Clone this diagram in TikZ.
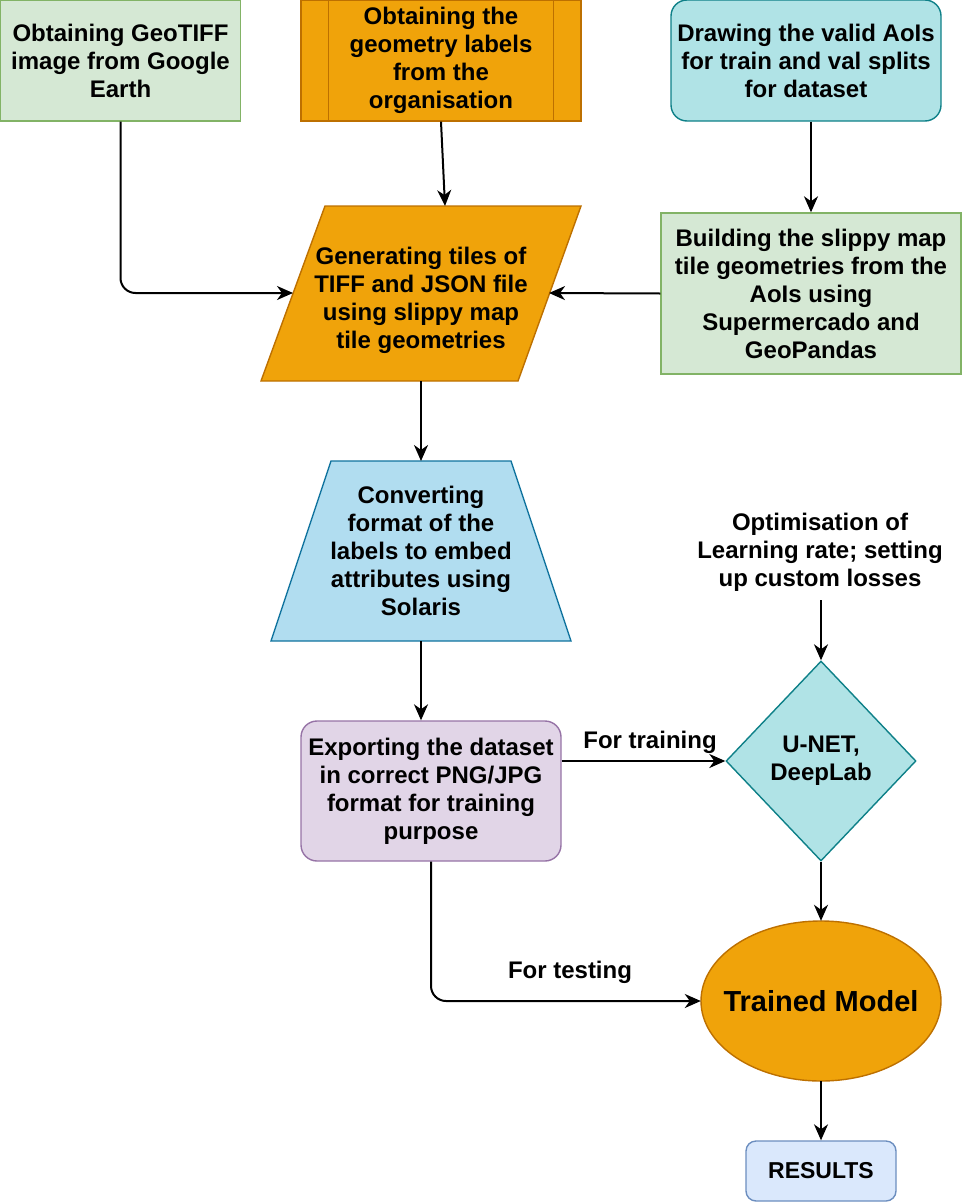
\documentclass[tikz,border=0pt]{standalone}
\usepackage{fontspec}
\setmainfont{Liberation Sans}
\usetikzlibrary{shapes.geometric,arrows.meta}
\definecolor{grnF}{HTML}{D5E8D4}\definecolor{grnS}{HTML}{82B366}
\definecolor{orF}{HTML}{F0A30A}\definecolor{orS}{HTML}{BD7000}
\definecolor{tlF}{HTML}{B0E3E6}\definecolor{tlS}{HTML}{0E8088}
\definecolor{blF}{HTML}{B1DDF0}\definecolor{blS}{HTML}{10739E}
\definecolor{puF}{HTML}{E1D5E7}\definecolor{puS}{HTML}{9673A6}
\definecolor{ltF}{HTML}{DAE8FC}\definecolor{ltS}{HTML}{6C8EBF}
\begin{document}
\begin{tikzpicture}[x=1pt,y=-1pt,
  txt/.style={font=\fontsize{24}{28}\selectfont\bfseries, align=center, inner sep=0pt, text=black},
  shp/.style={txt, draw, line width=1.4pt},
  conn/.style={line width=2pt, -{Stealth[length=16pt,width=14pt,inset=5pt]}, rounded corners=15pt},
  lbl/.style={txt}]
\useasboundingbox (0,0) rectangle (962,1202);

% shapes
\node[shp, fill=grnF, draw=grnS, minimum width=240, minimum height=121] (A) at (120.5,60.5)
  {Obtaining GeoTIFF\\image from Google\\Earth};
\node[shp, fill=orF, draw=orS, minimum width=280, minimum height=121] (B) at (441,60.5)
  {Obtaining the\\geometry labels\\from the\\organisation};
\draw[line width=1.4pt, orS] ([xshift=28pt]B.north west) -- ([xshift=28pt]B.south west);
\draw[line width=1.4pt, orS] ([xshift=-28pt]B.north east) -- ([xshift=-28pt]B.south east);
\node[shp, fill=tlF, draw=tlS, rounded corners=16pt, minimum width=270, minimum height=121] (C) at (806,60.5)
  {Drawing the valid AoIs\\for train and val splits\\for dataset};
\node[shp, fill=grnF, draw=grnS, minimum width=300, minimum height=161] (E) at (811,293.5)
  {Building the slippy map\\tile geometries from the\\AoIs using\\Supermercado and\\GeoPandas};

\draw[line width=1.4pt, draw=orS, fill=orF] (325,206) -- (581,206) -- (518,381) -- (261,381) -- cycle;
\node[txt] (D) at (421,300) {Generating tiles of\\TIFF and JSON file\\using slippy map\\tile geometries};
\coordinate (Dtop) at (445,206);
\coordinate (Dbot) at (421,381);
\coordinate (Dleft) at (293,293);
\coordinate (Dright) at (549,293);

\draw[line width=1.4pt, draw=blS, fill=blF] (331,461) -- (511,461) -- (571,641) -- (271,641) -- cycle;
\node[txt] (F) at (421,551) {Converting\\format of the\\labels to embed\\attributes using\\Solaris};
\coordinate (Ftop) at (421,461);
\coordinate (Fbot) at (421,641);

\node[shp, fill=puF, draw=puS, rounded corners=16pt, minimum width=260, minimum height=140] (G) at (431,791)
  {Exporting the dataset\\in correct PNG/JPG\\format for training\\purpose};
\node[shp, shape=diamond, fill=tlF, draw=tlS, minimum width=190, minimum height=200] (H) at (821,761)
  {U-NET,\\DeepLab};
\node[txt] (O) at (820,552) {Optimisation of\\Learning rate; setting\\up custom losses};
\coordinate (Obot) at (821,600);
\draw[line width=1.4pt, draw=orS, fill=orF] (821,1001) ellipse [x radius=120, y radius=80];
\node[txt, minimum width=240, minimum height=160,
  font=\fontsize{29}{34}\selectfont\bfseries] (I) at (821,1001) {Trained Model};
\node[shp, fill=ltF, draw=ltS, rounded corners=10pt, minimum width=150, minimum height=60,
  font=\fontsize{23}{28}\selectfont\bfseries] (R) at (821,1171) {RESULTS};

% connectors
\draw[conn] (A.south) |- (Dleft);
\draw[conn] (B.south) -- (Dtop);
\draw[conn] (C.south -| 811,0) -- (E.north);
\draw[conn] (E.west) -- (Dright);
\draw[conn] (Dbot) -- (Ftop);
\draw[conn] (Fbot) -- (G.north -| Fbot);
\draw[conn] (G.east |- H.west) -- (H.west);
\node[lbl] (Ltr) at (650,742) {For training};
\draw[conn] (Obot) -- (H.north);
\draw[conn] (H.south) -- (I.north);
\draw[conn] (G.south) |- (I.west);
\node[lbl] (Lte) at (570,972) {For testing};
\draw[conn] (I.south) -- (R.north);
\end{tikzpicture}
\end{document}
